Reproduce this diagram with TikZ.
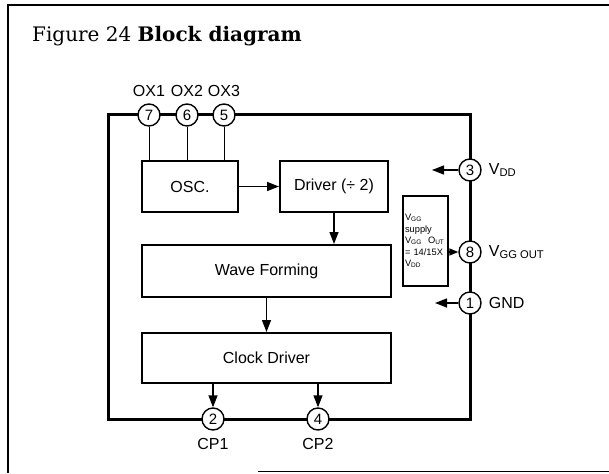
\documentclass[tikz,border=0pt]{standalone}
\usepackage{fontspec}
\setsansfont{Liberation Sans}
\newfontfamily\titlefont{DejaVu Serif}
\usetikzlibrary{positioning, arrows.meta}

\begin{document}
\begin{tikzpicture}[x=1pt, y=-1pt,
    block/.style={rectangle, draw, line width=2pt, font=\sffamily\fontsize{16}{19}\selectfont},
    pin/.style={circle, draw, line width=1.4pt, fill=white, minimum size=22pt, inner sep=0pt, font=\sffamily\fontsize{15}{17}\selectfont},
    tag/.style={inner sep=0pt, font=\sffamily\fontsize{16}{19}\selectfont},
    bus/.style={line width=3pt},
    sig/.style={line width=1.4pt, -{Triangle[length=12pt, width=9pt]}}
]
    \useasboundingbox (0,0) rectangle (609,473);

    % figure frame and title
    \draw[line width=1.5pt] (609,5) -- (8,5) -- (8,473);
    \draw[line width=1pt] (258,471.5) -- (609,471.5);
    \node[anchor=base west, inner sep=0pt, font=\titlefont\fontsize{20}{24}\selectfont] (title) at (32,42) {Figure 24 \textbf{Block diagram}};

    % supply loop
    \coordinate (tl) at (108,115);
    \coordinate (tr) at (470,115);
    \coordinate (br) at (470,419);
    \coordinate (bl) at (108,419);
    \draw[bus] (tl) -- (tr) -- (br) -- (bl) -- cycle;

    % pins
    \node[pin] (p7) at (149,115) {7};
    \node[pin] (p6) at (187,115) {6};
    \node[pin] (p5) at (224,115) {5};
    \node[pin] (p3) at (470,170) {3};
    \node[pin] (p8) at (470,252) {8};
    \node[pin] (p1) at (470,303) {1};
    \node[pin] (p2) at (213,419) {2};
    \node[pin] (p4) at (318,419) {4};

    \node[tag, above=6pt of p7] (ox1) {OX1};
    \node[tag, above=6pt of p6] (ox2) {OX2};
    \node[tag, above=6pt of p5] (ox3) {OX3};
    \node[tag, right=7pt of p3] (vdd) {V\textsubscript{DD}};
    \node[tag, right=7pt of p8] (vggout) {V\textsubscript{GG OUT}};
    \node[tag, right=7pt of p1] (gnd) {GND};
    \node[tag, below=7pt of p2] (cp1) {CP1};
    \node[tag, below=7pt of p4] (cp2) {CP2};

    % blocks
    \node[block, minimum width=96pt, minimum height=51pt] (osc) at (190,186.5) {OSC.};
    \node[block, minimum width=108pt, minimum height=51pt] (drv) at (334,186.5) {Driver (÷ 2)};
    \node[block, minimum width=249pt, minimum height=52pt] (wave) at (266.5,271) {Wave Forming};
    \node[block, minimum width=249pt, minimum height=50pt] (clk) at (266.5,358) {Clock Driver};
    \node[block, anchor=north west, align=left, text width=41pt, minimum height=90pt, inner sep=2pt,
          font=\sffamily\fontsize{9.3}{11.5}\selectfont] (vgg) at (402,195)
          {V\textsubscript{GG}\\supply\\V\textsubscript{GG}~~O\textsubscript{UT}\\= 14/15X\\V\textsubscript{DD}};

    % connections
    \draw[line width=1pt] (p7) -- (p7 |- osc.north);
    \draw[line width=1pt] (p6) -- (p6 |- osc.north);
    \draw[line width=1pt] (p5) -- (p5 |- osc.north);
    \draw[sig] (osc) -- (drv);
    \draw[sig] (drv.south) -- (drv.south |- wave.north);
    \draw[sig] (wave.south) -- (wave.south |- clk.north);
    \draw[sig] (p2 |- clk.south) -- (p2);
    \draw[sig] (p4 |- clk.south) -- (p4);
    \draw[line width=1.4pt, -{Triangle[length=9pt, width=7pt]}] (vgg.east |- p8) -- (p8);
    \coordinate (vddtip) at (432,170);
    \coordinate (gndtip) at (435,303);
    \draw[sig] (p3) -- (vddtip);
    \draw[sig] (p1) -- (gndtip);

\end{tikzpicture}
\end{document}
